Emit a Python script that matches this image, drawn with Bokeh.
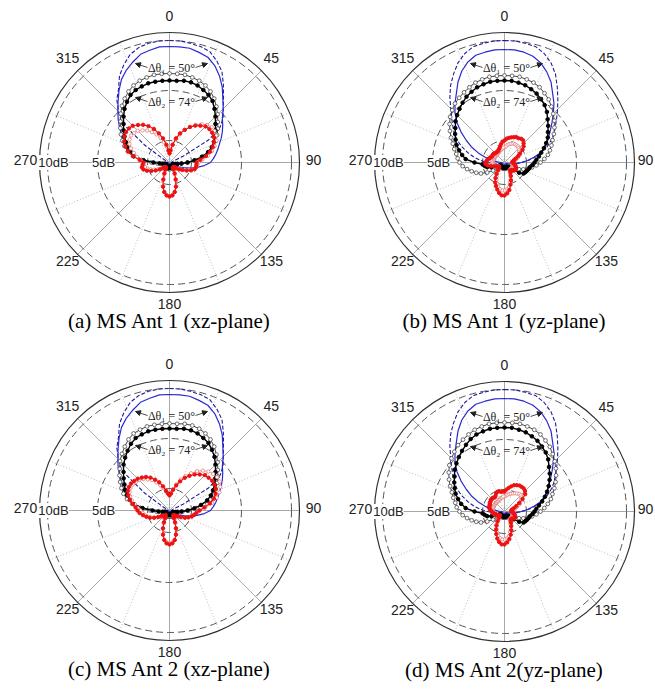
import math
from bokeh.plotting import figure
from bokeh.layouts import column, row
from bokeh.models import Range1d, Label, Arrow, NormalHead
from bokeh.embed import file_html
from bokeh.resources import INLINE

# ---------------- data (dB) ----------------
ANGLES = list(range(0, 360, 5))          # theta, clockwise from top
R_MIN = -2.2                             # dB value at the centre
OUTER_DB = 10.8                          # outer solid ring
RING_DB = [0, 5, 10]                     # dashed rings
RING_LABEL_DB = [5, 10]
RING_LABELS = ["5dB", "10dB"]
TICK_ANGLES = [0, 45, 90, 135, 180, 225, 270, 315]
TICK_LABELS = ["0", "45", "90", "135", "180", "225", "270", "315"]
BEAM_LABELS = ["\u0394\u03b8\u2081 = 50\u00b0", "\u0394\u03b8\u2082 = 74\u00b0"]
CAPTIONS = ["(a) MS Ant 1 (xz-plane)", "(b) MS Ant 1 (yz-plane)",
            "(c) MS Ant 2 (xz-plane)", "(d) MS Ant 2(yz-plane)"]

XZ_BLUE_SOLID = [
    9.4, 9.4, 9.4, 9.2, 9.0, 8.5, 7.8, 7.0, 6.1, 5.4, 4.7, 4.3,
    3.9, 3.5, 3.1, 2.8, 2.5, 2.2, 1.9, 1.3, 0.6, 0.0, -0.7, -1.2,
    -1.7, -1.9, -2.0, -2.1, -2.1, -2.1, -2.1, -2.1, -2.1, -2.1, -2.1, -2.1,
    -2.1, -2.1, -2.1, -2.1, -2.1, -2.1, -2.1, -2.1, -2.1, -2.1, -2.1, -2.1,
    -2.1, -2.1, -2.1, -2.1, -1.9, -1.6, -1.0, 0.4, 1.4, 2.0, 2.5, 2.9,
    3.3, 3.9, 4.5, 5.1, 5.8, 6.6, 7.4, 8.0, 8.5, 9.0, 9.2, 9.4]
XZ_BLUE_DASH = [
    10.0, 10.0, 9.9, 9.8, 9.6, 9.0, 8.3, 7.2, 6.2, 5.4, 4.8, 4.0,
    2.3, -0.7, -1.8, -1.9, -2.0, -2.0, -2.0, -2.0, -2.0, -2.0, -2.0, -2.0,
    -2.0, -2.0, -2.0, -2.0, -2.0, -2.0, -2.0, -2.0, -2.0, -2.0, -2.0, -2.0,
    -2.0, -2.0, -2.0, -2.0, -2.0, -2.0, -2.0, -2.0, -2.0, -2.0, -2.0, -2.0,
    -2.0, -2.0, -2.0, -2.0, -2.0, -2.0, -2.0, -2.0, -2.0, -2.0, -1.9, -1.9,
    -1.4, 0.8, 4.1, 5.0, 6.0, 6.7, 7.8, 8.6, 9.3, 9.7, 9.9, 10.0]
YZ_BLUE_SOLID = [
    9.1, 9.1, 9.0, 8.8, 8.4, 7.8, 7.1, 6.2, 5.5, 4.7, 4.0, 3.4,
    2.9, 2.5, 2.0, 1.5, 0.8, 0.1, -0.5, -0.9, -1.3, -1.6, -1.8, -1.9,
    -2.0, -2.0, -2.0, -2.0, -2.0, -2.0, -2.0, -2.0, -2.0, -2.0, -2.0, -2.0,
    -2.0, -2.0, -2.0, -2.0, -2.0, -2.0, -2.0, -2.0, -2.0, -2.0, -2.0, -2.0,
    -2.0, -2.0, -2.0, -2.0, -2.0, -1.9, -1.8, -1.5, -1.0, -0.2, 0.6, 1.4,
    2.2, 3.1, 4.0, 4.8, 5.5, 6.2, 7.1, 7.9, 8.5, 8.9, 9.0, 9.1]
YZ_BLUE_DASH = [
    10.0, 10.0, 9.9, 9.8, 9.4, 8.8, 8.0, 7.0, 6.1, 5.3, 4.6, 4.0,
    3.5, 2.9, 2.3, 1.6, 0.9, 0.2, -0.5, -1.1, -1.6, -1.9, -2.0, -2.0,
    -2.0, -2.0, -2.0, -2.0, -2.0, -2.0, -2.0, -2.0, -2.0, -2.0, -2.0, -2.0,
    -2.0, -2.0, -2.0, -2.0, -2.0, -2.0, -2.0, -2.0, -2.0, -2.0, -2.0, -2.0,
    -2.0, -2.0, -2.0, -1.9, -1.6, -1.1, -0.5, 0.2, 0.9, 1.6, 2.3, 3.0,
    3.6, 4.1, 4.7, 5.4, 6.3, 7.2, 8.0, 8.8, 9.4, 9.8, 9.9, 10.0]

A_BLK_F = [
    6.0, 6.0, 6.1, 6.1, 6.0, 5.8, 5.6, 5.3, 4.8, 4.3, 3.8, 3.4,
    3.1, 2.7, 2.3, 1.8, 1.1, 0.3, -0.4, -1.0, -1.4, -1.6, -1.7, -1.8,
    -1.8, -1.8, -1.8, -1.8, -1.8, -1.8, -1.8, -1.8, -1.8, -1.7, -1.7, -1.7,
    -1.7, -1.7, -1.7, -1.7, -1.8, -1.8, -1.8, -1.8, -1.8, -1.8, -1.8, -1.8,
    -1.8, -1.8, -1.8, -1.7, -1.5, -1.2, -0.6, 0.4, 1.4, 1.8, 2.3, 2.6,
    3.0, 3.4, 3.8, 4.3, 4.8, 5.2, 5.6, 5.8, 5.9, 6.0, 6.0, 6.0]
A_BLK_O = [
    6.7, 6.7, 6.7, 6.6, 6.5, 6.3, 6.0, 5.6, 5.1, 4.6, 4.1, 3.7,
    3.3, 2.9, 2.5, 1.9, 1.2, 0.4, -0.4, -1.0, -1.4, -1.6, -1.6, -1.6,
    -1.6, -1.6, -1.6, -1.6, -1.6, -1.6, -1.6, -1.6, -1.6, -1.6, -1.6, -1.6,
    -1.5, -1.6, -1.6, -1.6, -1.6, -1.6, -1.6, -1.6, -1.6, -1.6, -1.6, -1.6,
    -1.6, -1.6, -1.6, -1.6, -1.4, -1.0, -0.4, 0.6, 1.5, 2.1, 2.6, 3.0,
    3.4, 3.8, 4.2, 4.7, 5.2, 5.6, 6.0, 6.3, 6.5, 6.6, 6.7, 6.7]
A_RED_F = [
    -1.3, -1.0, -0.4, 0.3, 0.9, 1.4, 1.9, 2.3, 2.6, 2.9, 3.0, 3.0,
    2.9, 2.7, 2.4, 2.0, 1.5, 0.9, 0.5, 0.5, 0.5, 0.4, 0.1, -0.3,
    -0.7, -1.0, -1.3, -1.5, -1.6, -1.6, -1.4, -1.0, -0.4, 0.3, 0.8, 1.1,
    1.2, 1.1, 0.8, 0.3, -0.4, -1.0, -1.4, -1.6, -1.6, -1.5, -1.3, -1.0,
    -0.6, -0.2, 0.2, 0.5, 0.6, 0.5, 0.4, 0.8, 1.5, 2.1, 2.5, 2.8,
    3.0, 3.1, 3.1, 3.0, 2.7, 2.4, 2.0, 1.5, 0.9, 0.3, -0.4, -1.0]
A_RED_O = [
    -1.2, -0.9, -0.4, 0.2, 0.8, 1.4, 1.9, 2.4, 2.8, 3.1, 3.3, 3.3,
    3.2, 3.0, 2.6, 2.2, 1.7, 1.1, 0.7, 0.6, 0.5, 0.4, 0.0, -0.4,
    -0.8, -1.1, -1.4, -1.5, -1.6, -1.5, -1.3, -0.9, -0.3, 0.3, 0.8, 1.1,
    1.2, 1.1, 0.8, 0.3, -0.3, -0.9, -1.3, -1.5, -1.6, -1.5, -1.4, -1.1,
    -0.8, -0.5, -0.2, 0.1, 0.3, 0.4, 0.5, 0.7, 1.1, 1.5, 1.9, 2.2,
    2.4, 2.5, 2.4, 2.3, 2.0, 1.7, 1.3, 0.9, 0.4, -0.1, -0.6, -1.0]

B_BLK_F = [
    6.0, 6.0, 5.9, 5.8, 5.6, 5.4, 5.1, 4.8, 4.4, 3.9, 3.5, 3.1,
    2.8, 2.4, 2.0, 1.6, 1.3, 1.0, 0.8, 0.6, 0.4, 0.3, 0.2, 0.1,
    0.0, -0.4, -1.0, -1.4, -1.6, -1.7, -1.7, -1.7, -1.7, -1.7, -1.7, -1.7,
    -1.7, -1.7, -1.7, -1.7, -1.7, -1.7, -1.7, -1.7, -1.7, -1.7, -1.7, -1.7,
    -1.6, -1.3, -0.8, -0.4, -0.2, 0.0, 0.8, 1.7, 2.1, 2.5, 2.9, 3.2,
    3.5, 3.8, 4.2, 4.5, 4.8, 5.1, 5.4, 5.6, 5.8, 5.9, 6.0, 6.0]
B_BLK_O = [
    6.5, 6.5, 6.5, 6.4, 6.3, 6.1, 5.8, 5.5, 5.1, 4.7, 4.3, 3.9,
    3.5, 3.1, 2.8, 2.5, 2.2, 1.8, 1.4, 1.0, 0.6, 0.2, -0.2, -0.6,
    -1.0, -1.3, -1.5, -1.6, -1.6, -1.6, -1.6, -1.6, -1.6, -1.6, -1.6, -1.6,
    -1.6, -1.6, -1.6, -1.6, -1.6, -1.6, -1.6, -1.6, -1.6, -1.5, -1.2, -0.8,
    -0.2, 0.4, 0.8, 1.2, 1.6, 2.0, 2.3, 2.5, 2.7, 3.0, 3.3, 3.7,
    4.1, 4.5, 4.9, 5.2, 5.5, 5.7, 5.9, 6.1, 6.3, 6.4, 6.5, 6.5]
B_RED_F = [
    0.0, 0.2, 0.3, 0.4, 0.5, 0.6, 0.6, 0.7, 0.7, 0.5, 0.3, 0.0,
    -0.4, -0.7, -1.0, -1.2, -1.3, -1.4, -1.4, -1.3, -1.2, -1.1, -1.0, -0.9,
    -0.9, -0.9, -1.0, -1.1, -1.2, -1.2, -1.0, -0.7, -0.3, 0.1, 0.6, 0.9,
    1.1, 1.1, 0.9, 0.6, 0.3, 0.0, -0.4, -0.8, -1.2, -1.4, -1.5, -1.5,
    -1.4, -1.3, -1.1, -0.8, -0.5, -0.3, -0.3, -0.4, -0.5, -0.6, -0.7, -0.8,
    -0.8, -0.8, -0.8, -0.9, -0.9, -0.9, -0.9, -0.8, -0.7, -0.5, -0.3, -0.1]
B_RED_O = [
    -0.7, -0.6, -0.4, -0.3, -0.2, -0.1, -0.1, -0.1, -0.1, -0.2, -0.3, -0.4,
    -0.5, -0.6, -0.8, -1.0, -1.2, -1.3, -1.4, -1.4, -1.4, -1.4, -1.3, -1.3,
    -1.3, -1.3, -1.3, -1.3, -1.3, -1.2, -1.1, -0.8, -0.4, -0.1, 0.3, 0.5,
    0.6, 0.6, 0.5, 0.3, 0.0, -0.3, -0.6, -0.9, -1.2, -1.4, -1.5, -1.5,
    -1.5, -1.4, -1.3, -1.2, -1.1, -1.0, -1.0, -1.0, -1.0, -1.1, -1.1, -1.1,
    -1.1, -1.1, -1.1, -1.1, -1.1, -1.0, -1.0, -1.0, -0.9, -0.9, -0.8, -0.7]

C_BLK_F = [
    6.0, 6.0, 6.1, 6.1, 6.0, 5.8, 5.6, 5.2, 4.8, 4.3, 3.8, 3.4,
    3.0, 2.6, 2.2, 1.7, 1.0, 0.3, -0.4, -1.0, -1.4, -1.6, -1.7, -1.8,
    -1.8, -1.8, -1.8, -1.8, -1.8, -1.8, -1.8, -1.8, -1.8, -1.8, -1.8, -1.8,
    -1.8, -1.8, -1.8, -1.8, -1.8, -1.8, -1.8, -1.8, -1.8, -1.8, -1.8, -1.8,
    -1.8, -1.8, -1.8, -1.7, -1.5, -1.1, -0.5, 0.5, 1.4, 1.9, 2.3, 2.7,
    3.0, 3.4, 3.8, 4.3, 4.7, 5.1, 5.5, 5.8, 5.9, 6.0, 6.0, 6.0]
C_BLK_O = [
    6.5, 6.5, 6.6, 6.6, 6.5, 6.3, 6.0, 5.6, 5.1, 4.6, 4.1, 3.7,
    3.3, 2.9, 2.5, 2.0, 1.3, 0.5, -0.3, -0.9, -1.3, -1.5, -1.6, -1.6,
    -1.6, -1.6, -1.6, -1.6, -1.6, -1.6, -1.6, -1.6, -1.6, -1.6, -1.6, -1.6,
    -1.6, -1.6, -1.6, -1.6, -1.6, -1.6, -1.6, -1.6, -1.6, -1.6, -1.6, -1.6,
    -1.6, -1.6, -1.6, -1.5, -1.3, -0.9, -0.3, 0.7, 1.6, 2.2, 2.7, 3.1,
    3.5, 3.9, 4.3, 4.8, 5.2, 5.6, 6.0, 6.3, 6.4, 6.5, 6.5, 6.5]
C_RED_F = [
    -0.7, -0.5, -0.1, 0.4, 0.9, 1.4, 1.8, 2.2, 2.5, 2.8, 2.9, 3.0,
    3.0, 2.9, 2.7, 2.4, 1.9, 1.3, 0.8, 0.5, 0.3, 0.1, -0.2, -0.5,
    -0.9, -1.2, -1.4, -1.5, -1.6, -1.5, -1.3, -0.9, -0.3, 0.3, 0.8, 1.1,
    1.2, 1.1, 0.8, 0.3, -0.3, -0.9, -1.3, -1.5, -1.6, -1.5, -1.4, -1.2,
    -0.9, -0.5, -0.1, 0.2, 0.5, 0.8, 1.0, 1.2, 1.5, 1.9, 2.2, 2.4,
    2.5, 2.5, 2.4, 2.3, 2.1, 1.9, 1.6, 1.2, 0.8, 0.3, -0.2, -0.5]
C_RED_O = [
    -0.6, -0.4, 0.0, 0.5, 1.1, 1.6, 2.1, 2.6, 3.0, 3.3, 3.5, 3.6,
    3.6, 3.4, 3.1, 2.7, 2.1, 1.4, 0.8, 0.5, 0.3, 0.1, -0.2, -0.5,
    -0.8, -1.1, -1.3, -1.4, -1.5, -1.4, -1.2, -0.8, -0.3, 0.3, 0.8, 1.0,
    1.1, 1.0, 0.8, 0.3, -0.3, -0.8, -1.2, -1.4, -1.5, -1.4, -1.3, -1.1,
    -0.8, -0.5, -0.2, 0.1, 0.3, 0.5, 0.7, 1.0, 1.3, 1.7, 2.0, 2.2,
    2.3, 2.3, 2.2, 2.1, 1.9, 1.6, 1.3, 0.9, 0.5, 0.1, -0.3, -0.5]

D_BLK_F = [
    6.2, 6.2, 6.1, 6.0, 5.8, 5.6, 5.3, 5.0, 4.6, 4.1, 3.7, 3.3,
    2.9, 2.5, 2.1, 1.7, 1.3, 1.0, 0.8, 0.6, 0.4, 0.3, 0.2, 0.1,
    0.0, -0.4, -1.0, -1.4, -1.6, -1.7, -1.7, -1.7, -1.7, -1.7, -1.7, -1.7,
    -1.7, -1.7, -1.7, -1.7, -1.7, -1.7, -1.7, -1.7, -1.7, -1.7, -1.7, -1.7,
    -1.6, -1.3, -0.8, -0.4, -0.2, 0.0, 0.8, 1.7, 2.2, 2.6, 3.0, 3.3,
    3.6, 3.9, 4.3, 4.6, 4.9, 5.2, 5.5, 5.8, 6.0, 6.1, 6.2, 6.2]
D_BLK_O = [
    6.7, 6.7, 6.7, 6.6, 6.5, 6.3, 6.0, 5.7, 5.3, 4.9, 4.5, 4.1,
    3.7, 3.3, 2.9, 2.6, 2.2, 1.8, 1.4, 1.0, 0.6, 0.2, -0.2, -0.6,
    -1.0, -1.3, -1.5, -1.6, -1.6, -1.6, -1.6, -1.6, -1.6, -1.6, -1.6, -1.6,
    -1.6, -1.6, -1.6, -1.6, -1.6, -1.6, -1.6, -1.6, -1.6, -1.5, -1.2, -0.8,
    -0.2, 0.4, 0.8, 1.2, 1.6, 2.0, 2.3, 2.6, 2.8, 3.1, 3.4, 3.8,
    4.2, 4.6, 5.0, 5.3, 5.6, 5.9, 6.1, 6.3, 6.5, 6.6, 6.7, 6.7]
D_RED_F = [
    -0.2, 0.0, 0.2, 0.4, 0.6, 0.7, 0.8, 0.8, 0.8, 0.7, 0.5, 0.0,
    -0.5, -0.9, -1.2, -1.4, -1.5, -1.5, -1.5, -1.4, -1.3, -1.2, -1.1, -1.0,
    -1.0, -1.0, -1.1, -1.2, -1.2, -1.1, -0.9, -0.6, -0.2, 0.2, 0.6, 0.9,
    1.1, 1.1, 0.9, 0.6, 0.2, -0.2, -0.6, -1.0, -1.3, -1.5, -1.6, -1.6,
    -1.5, -1.4, -1.3, -1.2, -1.1, -1.0, -0.9, -0.8, -0.7, -0.6, -0.6, -0.6,
    -0.5, -0.5, -0.4, -0.4, -0.4, -0.5, -0.4, -0.2, -0.1, -0.1, -0.2, -0.2]
D_RED_O = [
    -0.7, -0.6, -0.5, -0.4, -0.3, -0.2, -0.1, 0.0, 0.1, 0.1, 0.0, -0.2,
    -0.4, -0.6, -0.9, -1.1, -1.3, -1.4, -1.4, -1.4, -1.4, -1.4, -1.3, -1.3,
    -1.3, -1.3, -1.3, -1.3, -1.3, -1.2, -1.1, -0.8, -0.4, -0.1, 0.3, 0.5,
    0.6, 0.6, 0.5, 0.3, 0.0, -0.3, -0.6, -0.9, -1.2, -1.4, -1.5, -1.5,
    -1.5, -1.4, -1.3, -1.2, -1.1, -1.0, -1.0, -1.0, -1.0, -1.0, -1.0, -1.0,
    -1.0, -1.0, -1.0, -1.0, -1.0, -1.0, -1.0, -0.9, -0.9, -0.8, -0.8, -0.7]

# ---------------- layout / style ----------------
PX_PER_DB = 10.0
PANELS = [
    dict(cap=CAPTIONS[0], w=335, h=348, cx=169, cy=162, bs=XZ_BLUE_SOLID, bd=XZ_BLUE_DASH,
         kf=A_BLK_F, ko=A_BLK_O, rf=A_RED_F, ro=A_RED_O),
    dict(cap=CAPTIONS[1], w=320, h=348, cx=169, cy=162, bs=YZ_BLUE_SOLID, bd=YZ_BLUE_DASH,
         kf=B_BLK_F, ko=B_BLK_O, rf=B_RED_F, ro=B_RED_O),
    dict(cap=CAPTIONS[2], w=335, h=343, cx=169, cy=162, bs=XZ_BLUE_SOLID, bd=XZ_BLUE_DASH,
         kf=C_BLK_F, ko=C_BLK_O, rf=C_RED_F, ro=C_RED_O),
    dict(cap=CAPTIONS[3], w=320, h=343, cx=169, cy=163, bs=YZ_BLUE_SOLID, bd=YZ_BLUE_DASH,
         kf=D_BLK_F, ko=D_BLK_O, rf=D_RED_F, ro=D_RED_O),
]
SANS = "Liberation Sans"
SERIF = "Liberation Serif"


def rad(db):
    return max(db - R_MIN, 0.0) * PX_PER_DB


def polar(vals, close=True):
    a = ANGLES + ([ANGLES[0]] if close else [])
    v = vals + ([vals[0]] if close else [])
    xs = [rad(d) * math.sin(math.radians(t)) for t, d in zip(a, v)]
    ys = [rad(d) * math.cos(math.radians(t)) for t, d in zip(a, v)]
    return xs, ys


def make_panel(cfg):
    for k in ("bs", "bd", "kf", "ko", "rf", "ro"):
        assert len(cfg[k]) == len(ANGLES), (cfg["cap"], k, len(cfg[k]))
    w, h, cx, cy = cfg["w"], cfg["h"], cfg["cx"], cfg["cy"]
    p = figure(width=w, height=h, x_range=Range1d(-cx, w - cx), y_range=Range1d(cy - h, cy),
               output_backend="svg", toolbar_location=None, min_border=0)
    p.axis.visible = False
    p.grid.visible = False
    p.outline_line_color = None
    p.background_fill_color = "white"
    p.border_fill_color = "white"

    R = rad(OUTER_DB)
    # radial spokes
    for k in range(8):
        t = math.radians(22.5 + 45 * k)
        p.line([0, R * math.sin(t)], [0, R * math.cos(t)], line_color="#bcbcbc",
               line_width=1, line_dash="1 2")
    for t_deg in TICK_ANGLES:
        t = math.radians(t_deg)
        p.line([0, R * math.sin(t)], [0, R * math.cos(t)], line_color="#a8a8a8", line_width=1)
    # rings
    for db in RING_DB:
        p.circle(x=0, y=0, radius=rad(db), fill_color=None, line_color="#555555",
                 line_width=1, line_dash="7 4")
    p.circle(x=0, y=0, radius=R, fill_color=None, line_color="#303030", line_width=1.2)

    # curves
    xs, ys = polar(cfg["bd"])
    p.line(xs, ys, line_color="#1c1c9c", line_width=1.1, line_dash="4 2")
    xs, ys = polar(cfg["bs"])
    p.line(xs, ys, line_color="#2a2ad2", line_width=1.2)

    xs, ys = polar(cfg["ko"])
    p.line(xs, ys, line_color="#333333", line_width=0.9)
    p.scatter(xs[:-1], ys[:-1], marker="circle", size=3.8, fill_color="white",
              line_color="#333333", line_width=0.7)
    xs, ys = polar(cfg["kf"])
    p.line(xs, ys, line_color="black", line_width=1.4)
    p.scatter(xs[:-1], ys[:-1], marker="circle", size=3.6, fill_color="black", line_color="black")

    xs, ys = polar(cfg["ro"])
    p.line(xs, ys, line_color="#e58a8a", line_width=0.8)
    p.scatter(xs[:-1], ys[:-1], marker="circle", size=3.4, fill_color="white",
              line_color="#e07070", line_width=0.7)
    xs, ys = polar(cfg["rf"])
    p.line(xs, ys, line_color="#ee1111", line_width=1.1)
    p.scatter(xs[:-1], ys[:-1], marker="circle", size=3.4, fill_color="#ee1111", line_color="#ee1111")

    # angle labels
    for t_deg, lab in zip(TICK_ANGLES, TICK_LABELS):
        t = math.radians(t_deg)
        rr = R + 14
        lx = min(rr * math.sin(t), w - cx - 10)
        p.add_layout(Label(x=lx, y=rr * math.cos(t) + 3, text=lab, text_align="center",
                           text_baseline="middle", text_font=SANS, text_font_size="14px",
                           text_color="#222222"))
    # dB labels along 270
    for db, lab in zip(RING_LABEL_DB, RING_LABELS):
        p.add_layout(Label(x=-(rad(db) - 6), y=0, text=lab, text_align="center",
                           text_baseline="middle", text_font=SANS, text_font_size="13px",
                           text_color="#222222", background_fill_color="white"))

    # beam-width annotations
    for lab, yy in zip(BEAM_LABELS, [95, 61]):
        p.add_layout(Label(x=2, y=yy, text=lab, text_align="center", text_baseline="middle",
                           text_font=SERIF, text_font_size="12px", text_color="#222222"))
        for sgn in (-1, 1):
            p.add_layout(Arrow(end=NormalHead(size=5, fill_color="#222222", line_color="#222222"),
                               x_start=sgn * 24 + 2, y_start=yy, x_end=sgn * 36 + 2, y_end=yy + 4,
                               line_color="#222222", line_width=0.8))

    p.add_layout(Label(x=0, y=-158, text=cfg["cap"], text_align="center", text_baseline="middle",
                       text_font=SERIF, text_font_size="21px", text_color="black"))
    return p


panels = [make_panel(c) for c in PANELS]
layout = column(row(panels[0], panels[1]), row(panels[2], panels[3]))
open("out.html", "w").write(file_html(layout, INLINE))
